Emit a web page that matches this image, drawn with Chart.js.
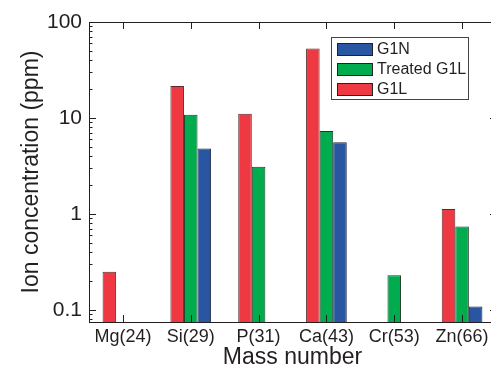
<!DOCTYPE html>
<html>
<head>
<meta charset="utf-8">
<script src="https://cdn.jsdelivr.net/npm/chart.js@4.4.1/dist/chart.umd.min.js"></script>
<style>
  html, body { margin: 0; padding: 0; overflow: hidden; background: #fff; }
  canvas { display: block; }
</style>
</head>
<body>
<canvas id="ionChart" width="500" height="374"></canvas>
<script>
var categories = ["Mg(24)", "Si(29)", "P(31)", "Ca(43)", "Cr(53)", "Zn(66)"];
var g1l = [0.25, 21.5, 11.1, 53, null, 1.13];
var treatedG1l = [null, 10.8, 3.1, 7.3, 0.23, 0.74];
var g1n = [null, 4.8, null, 5.6, null, 0.109];
var yTickLabels = [0.1, 1, 10, 100];

var FONT = "'Liberation Sans', Arial, Helvetica, sans-serif";
var INK = "#231f20";

// frame around the plot + inward tick marks (like the original plot)
var frameTicks = {
  id: 'frameTicks',
  afterDatasetsDraw: function (chart) {
    var ctx = chart.ctx, ca = chart.chartArea;
    var x = chart.scales.x, y = chart.scales.y;
    ctx.save();
    ctx.strokeStyle = INK;
    ctx.lineWidth = 1;
    ctx.strokeRect(Math.round(ca.left) + 0.5, Math.round(ca.top) + 0.5,
      Math.round(ca.right - ca.left), Math.round(ca.bottom - ca.top));
    ctx.beginPath();
    // category ticks, top and bottom
    categories.forEach(function (c, i) {
      var px = Math.round(x.getPixelForValue(i)) + 0.5;
      ctx.moveTo(px, ca.top); ctx.lineTo(px, ca.top + 7);
      ctx.moveTo(px, ca.bottom); ctx.lineTo(px, ca.bottom - 7);
    });
    // log ticks on the left (major + minor), major on the right
    for (var e = -2; e <= 2; e++) {
      for (var m = 1; m <= 9; m++) {
        var v = m * Math.pow(10, e);
        if (v < y.min - 1e-9 || v > y.max + 1e-9) continue;
        var py = Math.round(y.getPixelForValue(v)) + 0.5;
        var len = m === 1 ? 7 : 3.5;
        ctx.moveTo(ca.left, py); ctx.lineTo(ca.left + len, py);
        if (m === 1) { ctx.moveTo(ca.right, py); ctx.lineTo(ca.right - 6, py); }
      }
    }
    ctx.stroke();
    ctx.restore();
  }
};

// boxed legend inside the plot, top right
var boxLegend = {
  id: 'boxLegend',
  afterDraw: function (chart, args, opts) {
    var ctx = chart.ctx, ca = chart.chartArea;
    var left = ca.right - opts.right - opts.width, top = ca.top + opts.top;
    ctx.save();
    ctx.fillStyle = '#fff';
    ctx.fillRect(left, top, opts.width, opts.height);
    ctx.strokeStyle = '#444';
    ctx.lineWidth = 1;
    ctx.strokeRect(Math.round(left) + 0.5, Math.round(top) + 0.5, opts.width, opts.height);
    ctx.font = opts.fontSize + 'px ' + FONT;
    ctx.textBaseline = 'middle';
    var sets = chart.data.datasets.slice().reverse();
    sets.forEach(function (ds, i) {
      var cy = top + opts.firstRow + i * opts.rowGap;
      ctx.fillStyle = ds.backgroundColor;
      ctx.fillRect(left + 6, cy - 6, 35, 12);
      ctx.strokeStyle = '#222';
      ctx.strokeRect(left + 6.5, Math.round(cy - 6) + 0.5, 35, 12);
      ctx.fillStyle = INK;
      ctx.fillText(ds.label, left + 46, cy + 1);
    });
    ctx.restore();
  }
};

var ctx = document.getElementById('ionChart').getContext('2d');

var myChart = new Chart(ctx, {
  type: 'bar',
  data: {
    labels: categories,
    datasets: [{
        label: "G1L",
        backgroundColor: "#ee3842",
        borderColor: "#5a2a2c",
        borderWidth: 1,
        data: g1l
      }, {
        label: "Treated G1L",
        backgroundColor: "#00ac4e",
        borderColor: "#1f3a27",
        borderWidth: 1,
        data: treatedG1l
      }, {
        label: "G1N",
        backgroundColor: "#2856a3",
        borderColor: "#1c2740",
        borderWidth: 1,
        data: g1n
      }
    ]
  },
  options: {
    responsive: false,
    animation: false,
    categoryPercentage: 0.6,
    barPercentage: 1,
    layout: { padding: { top: 22, right: 4, left: 0, bottom: 0 } },
    scales: {
      x: {
        grid: { display: false, drawTicks: false },
        border: { display: false },
        ticks: { color: INK, font: { family: FONT, size: 18 }, padding: 4, maxRotation: 0, autoSkip: false },
        title: { display: true, text: 'Mass number', color: INK, font: { family: FONT, size: 23 }, padding: { top: 0, bottom: 3 } },
        afterFit: function (s) { s.height = 52; }
      },
      y: {
        type: 'logarithmic',
        min: 0.075,
        max: 100,
        grid: { display: false, drawTicks: false },
        border: { display: false },
        ticks: {
          color: INK,
          font: { family: FONT, size: 21 },
          padding: 7,
          autoSkip: false,
          callback: function (v) {
            for (var i = 0; i < yTickLabels.length; i++) {
              if (Math.abs(v - yTickLabels[i]) < yTickLabels[i] * 1e-6) return String(yTickLabels[i]);
            }
            return '';
          }
        },
        title: { display: true, text: 'Ion concentration (ppm)', color: INK, font: { family: FONT, size: 23 }, padding: { top: 18, bottom: 0 } },
        afterFit: function (s) { s.width = 89; }
      }
    },
    plugins: {
      legend: { display: false },
      tooltip: { enabled: false },
      boxLegend: { right: 28, top: 15, width: 137, height: 62, firstRow: 12, rowGap: 20, fontSize: 16 }
    }
  },
  plugins: [frameTicks, boxLegend]
});
</script>
</body>
</html>
